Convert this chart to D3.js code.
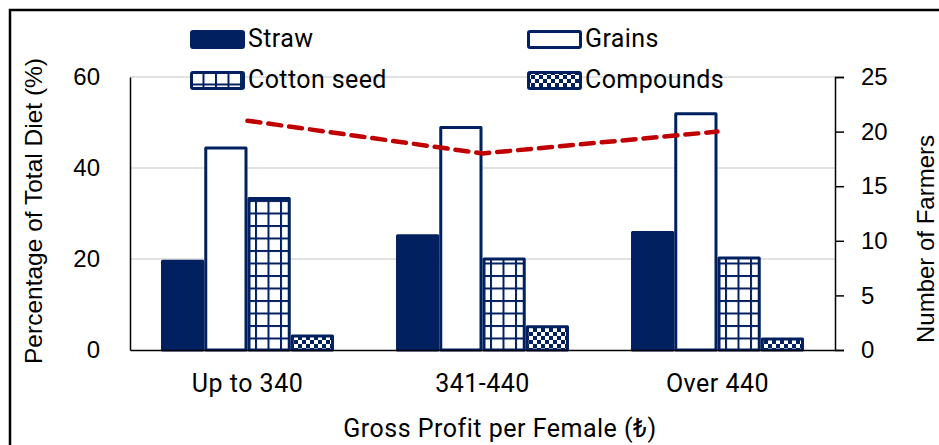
<!DOCTYPE html>
<html>
<head>
<meta charset="utf-8">
<script src="https://d3js.org/d3.v7.min.js"></script>
<style>
  body { margin: 0; background: #fff; }
  svg { display: block; }
</style>
</head>
<body>
<svg id="chart" width="939" height="445"></svg>
<script>
// data
const categories = ["Up to 340", "341-440", "Over 440"];
const series = ["Straw", "Grains", "Cotton seed", "Compounds"];
const straw = [19.5, 25.1, 25.8];
const grains = [44.4, 48.9, 51.9];
const cottonSeed = [33.3, 20.0, 20.2];
const compounds = [3.1, 5.1, 2.4];
const farmers = [21, 18, 20];
const leftTicks = [0, 20, 40, 60];
const rightTicks = [0, 5, 10, 15, 20, 25];

const values = [straw, grains, cottonSeed, compounds];
const navy = "#002060";
const labelFont = "Roboto, sans-serif";
const numFont = "Liberation Sans, Arial, sans-serif";

let svg = d3.select("#chart");

// outer frame (runs off the right and bottom edges)
svg.append("rect")
    .attr("x", 10).attr("y", 10)
    .attr("width", 960).attr("height", 460)
    .attr("fill", "none").attr("stroke", "#000").attr("stroke-width", 2.5);

// patterns
let defs = svg.append("defs");
let grid = defs.append("pattern")
    .attr("id", "grid").attr("patternUnits", "userSpaceOnUse")
    .attr("width", 12.5).attr("height", 12.5);
grid.append("rect").attr("width", 12.5).attr("height", 12.5).attr("fill", "#fff");
grid.append("rect").attr("x", 0).attr("y", 0).attr("width", 2).attr("height", 12.5).attr("fill", navy);
grid.append("rect").attr("x", 0).attr("y", 0).attr("width", 12.5).attr("height", 2).attr("fill", navy);

let checker = defs.append("pattern")
    .attr("id", "checker").attr("patternUnits", "userSpaceOnUse")
    .attr("width", 8).attr("height", 8);
checker.append("rect").attr("width", 8).attr("height", 8).attr("fill", "#fff");
checker.append("rect").attr("x", 0).attr("y", 0).attr("width", 4).attr("height", 4).attr("fill", navy);
checker.append("rect").attr("x", 4).attr("y", 4).attr("width", 4).attr("height", 4).attr("fill", navy);

const fills = [navy, "#fff", "url(#grid)", "url(#checker)"];

// scales
const plotLeft = 130, plotRight = 835, plotTop = 77, plotBottom = 350;
let x0 = d3.scaleBand().domain(categories).range([plotLeft, plotRight]);
let gap = x0.bandwidth() * 0.264;
let x1 = d3.scaleBand().domain(series).range([gap / 2, x0.bandwidth() - gap / 2]);
let yL = d3.scaleLinear().domain([0, 60]).range([plotBottom, plotTop]);
let yR = d3.scaleLinear().domain([0, 25]).range([plotBottom, plotTop]);

// gridlines
svg.append("g").selectAll("line").data(leftTicks.filter(d => d > 0)).join("line")
    .attr("x1", plotLeft).attr("x2", plotRight)
    .attr("y1", d => yL(d)).attr("y2", d => yL(d))
    .attr("stroke", "#d9d9d9").attr("stroke-width", 1.5);

// bars
let groups = svg.append("g").selectAll("g").data(categories).join("g")
    .attr("transform", d => `translate(${x0(d)},0)`);
groups.selectAll("rect")
    .data((c, i) => series.map((s, j) => ({ s: s, j: j, v: values[j][i] })))
    .join("rect")
    .attr("x", d => x1(d.s) + 1.5)
    .attr("width", x1.bandwidth() - 3)
    .attr("y", d => yL(d.v))
    .attr("height", d => yL(0) - yL(d.v))
    .attr("fill", d => fills[d.j])
    .attr("stroke", navy).attr("stroke-width", 3)
    .attr("stroke-linejoin", "round");

// axes
let leftAxis = d3.axisLeft(yL).tickValues(leftTicks).tickSize(0).tickPadding(30);
let gL = svg.append("g").attr("transform", `translate(${plotLeft},0)`).call(leftAxis);
gL.select(".domain").attr("stroke", "#000").attr("stroke-width", 1.5);
gL.selectAll("text").attr("font-family", numFont)
    .attr("font-size", 24).attr("fill", "#000");

let rightAxis = d3.axisRight(yR).tickValues(rightTicks).tickSizeOuter(0).tickSize(9).tickPadding(17);
let gR = svg.append("g").attr("transform", `translate(${plotRight},0)`).call(rightAxis);
gR.select(".domain").attr("stroke", "#000").attr("stroke-width", 1.5);
gR.selectAll("line").attr("stroke", "#000").attr("stroke-width", 1.5);
gR.selectAll("text").attr("font-family", numFont)
    .attr("font-size", 24).attr("fill", "#000");

let bottomAxis = d3.axisBottom(x0).tickSize(0).tickPadding(24);
let gB = svg.append("g").attr("transform", `translate(0,${plotBottom})`).call(bottomAxis);
gB.select(".domain").attr("stroke", "#000").attr("stroke-width", 1.5);
gB.selectAll("text").attr("font-family", labelFont)
    .attr("font-size", 25).attr("letter-spacing", 0.5).attr("fill", "#000");

// farmers line
let lineGen = d3.line()
    .x((d, i) => x0(categories[i]) + x0.bandwidth() / 2)
    .y(d => yR(d));
svg.append("path").datum(farmers)
    .attr("d", lineGen)
    .attr("fill", "none").attr("stroke", "#c00000")
    .attr("stroke-width", 4.5).attr("stroke-dasharray", "13,8")
    .attr("stroke-linecap", "round");

// axis titles
svg.append("text")
    .attr("transform", "translate(42,211) rotate(-90)")
    .attr("text-anchor", "middle")
    .attr("font-family", numFont).attr("font-size", 24.5)
    .text("Percentage of Total Diet (%)");
svg.append("text")
    .attr("transform", "translate(934,239) rotate(-90)")
    .attr("text-anchor", "middle")
    .attr("font-family", numFont).attr("font-size", 24)
    .text("Number of Farmers");
svg.append("text")
    .attr("x", 500).attr("y", 437)
    .attr("text-anchor", "middle")
    .attr("font-family", labelFont).attr("font-size", 25).attr("letter-spacing", 0.5)
    .text("Gross Profit per Female (₺)");

// legend
const legendX = [190, 527, 190, 527];
const legendY = [30, 30, 71, 71];
let legend = svg.append("g").selectAll("g").data(series).join("g")
    .attr("transform", (d, i) => `translate(${legendX[i]},${legendY[i]})`);
legend.append("rect")
    .attr("x", 1.5).attr("y", 1.5)
    .attr("width", 52).attr("height", 16)
    .attr("rx", 1.5)
    .attr("fill", (d, i) => fills[i])
    .attr("stroke", navy).attr("stroke-width", 3)
    .attr("stroke-linejoin", "round");
legend.append("text")
    .attr("x", 58).attr("y", 17)
    .attr("font-family", labelFont).attr("font-size", 25).attr("letter-spacing", 0.4)
    .text(d => d);
</script>
</body>
</html>
